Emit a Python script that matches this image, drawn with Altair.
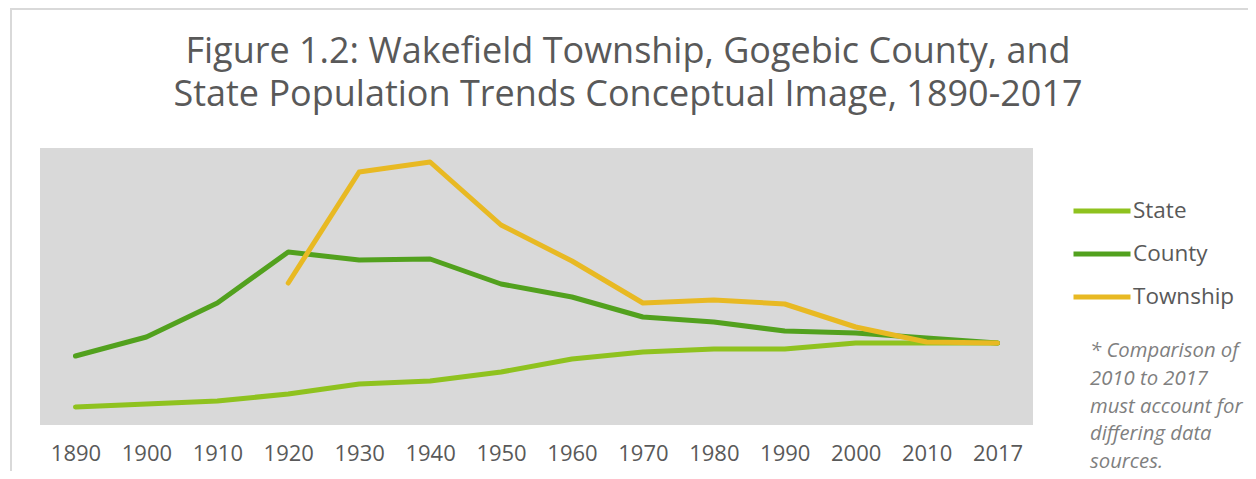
import altair as alt
import pandas as pd

YEARS = ["1890", "1900", "1910", "1920", "1930", "1940", "1950", "1960",
         "1970", "1980", "1990", "2000", "2010", "2017"]
SERIES = ["State", "County", "Township"]
STATE = [18, 21, 24, 31, 41, 44, 53, 66, 73, 76, 76, 82, 82, 82]
COUNTY = [69, 88, 122, 173, 165, 166, 141, 128, 108, 103, 94, 92, 87, 82]
TOWNSHIP = [None, None, None, 142, 253, 263, 200, 164, 122, 125, 121, 98, 83, 82]
COLORS = ["#8FC21F", "#52A11E", "#E8B923"]
TITLE = ["Figure 1.2: Wakefield Township, Gogebic County, and",
         "State Population Trends Conceptual Image, 1890-2017"]
NOTE_LINES = ["* Comparison of", "2010 to 2017", "must account for",
              "differing data", "sources."]

rows = []
for name, vals in zip(SERIES, [STATE, COUNTY, TOWNSHIP]):
    for yr, v in zip(YEARS, vals):
        if v is not None:
            rows.append({"Year": yr, "Series": name, "Value": v})
df = pd.DataFrame(rows)

lines = alt.Chart(df).mark_line(strokeWidth=5, strokeCap="round", strokeJoin="round").encode(
    x=alt.X("Year:O", sort=YEARS,
            scale=alt.Scale(type="point", padding=0.5),
            axis=alt.Axis(title=None, ticks=False, domain=False, labelAngle=0,
                          labelFontSize=22, labelColor="#595959", labelFont="Open Sans",
                          labelPadding=18)),
    y=alt.Y("Value:Q", scale=alt.Scale(domain=[0, 277], nice=False, zero=True), axis=None),
    color=alt.Color("Series:N",
                    scale=alt.Scale(domain=SERIES, range=COLORS),
                    sort=SERIES,
                    legend=alt.Legend(title=None, orient="none", legendX=1031, legendY=32,
                                      symbolType="stroke", symbolSize=3249,
                                      symbolStrokeWidth=5, labelFontSize=22.5,
                                      labelColor="#595959", labelFont="Open Sans",
                                      labelOffset=0, rowPadding=-12)),
    order=alt.Order("Year:O"),
)

note_df = pd.DataFrame({"note": ["\n".join(NOTE_LINES)]})
note = alt.Chart(note_df).mark_text(
    align="left", baseline="middle", fontSize=20.3, fontStyle="italic",
    font="Open Sans", color="#7F7F7F", lineBreak="\n", lineHeight=27.8
).encode(x=alt.value(1050), y=alt.value(203), text="note:N")

title_df = pd.DataFrame({"title": ["\n".join(TITLE)]})
title = alt.Chart(title_df).mark_text(
    align="center", baseline="alphabetic", fontSize=36, font="Open Sans",
    color="#595959", lineBreak="\n", lineHeight=43
).encode(x=alt.value(588), y=alt.value(-85), text="title:N")

frame_df = pd.DataFrame({"f": [0]})
frame = alt.Chart(frame_df).mark_rect(fill=None, stroke="#D9D9D9", strokeWidth=2).encode(
    x=alt.value(-29), x2=alt.value(1300), y=alt.value(-139), y2=alt.value(400)
)

chart = alt.layer(frame, lines, note, title).properties(
    width=993, height=277,
    autosize=alt.AutoSizeParams(type="none"),
    padding={"left": 32, "top": 140, "right": 215, "bottom": 46},
).configure_view(fill="#D9D9D9", stroke=None)

chart.save("out.html", embed_options={"renderer": "svg", "actions": False})
